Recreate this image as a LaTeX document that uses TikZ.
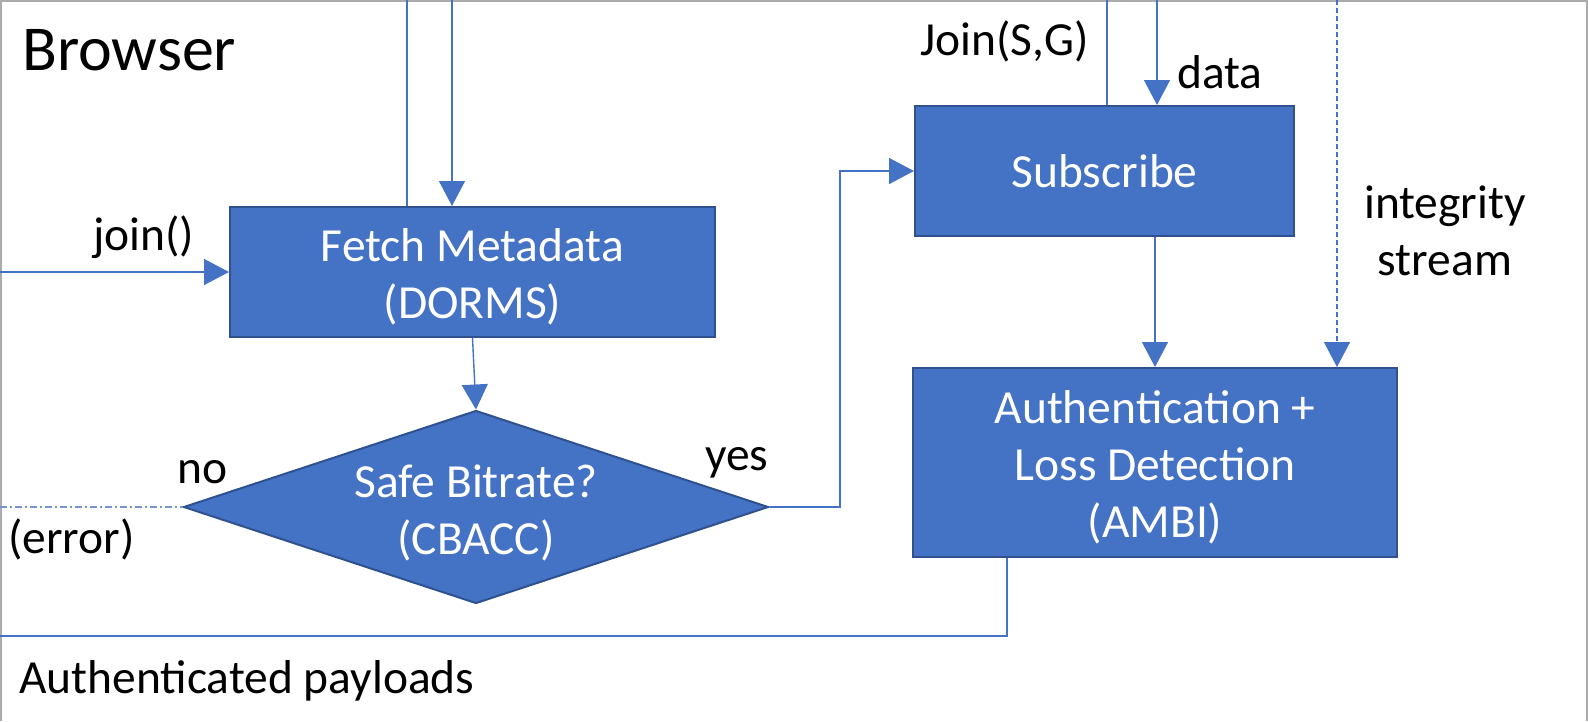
\documentclass[tikz,border=0pt]{standalone}
\usepackage{fontspec}
\setmainfont{Carlito}
\usetikzlibrary{arrows.meta,shapes.geometric}
\definecolor{obl}{HTML}{4472C4}
\definecolor{obd}{HTML}{2F528F}
\definecolor{frm}{HTML}{ABABAB}
\newcommand{\tallstrut}{\rule{0pt}{42pt}}
\tikzset{
  box/.style={rectangle, draw=obd, fill=obl, line width=2pt, text=white,
    font=\fontsize{47.5}{57}\selectfont, align=center, inner sep=0pt},
  dec/.style={diamond, draw=obd, fill=obl, line width=2pt, text=white,
    font=\fontsize{47.5}{57}\selectfont, align=center, inner sep=0pt, aspect=3.03},
  conn/.style={draw=obl, line width=1.4pt},
  arr/.style={conn, -{Triangle[length=25pt,width=26pt]}},
  lbl/.style={font=\fontsize{47.5}{57}\selectfont, text=black, inner sep=0pt},
}
\begin{document}
\begin{tikzpicture}[x=1pt,y=-1pt]
\useasboundingbox (0,0) rectangle (1588,721);
% frame
\draw[frm, line width=3pt] (0,721) -- (0,0) -- (1587.5,0) -- (1587.5,721);

% boxes
\node[box, minimum width=485pt, minimum height=130pt] (fetch) at (472.5,272) {\tallstrut Fetch Metadata\\(DORMS)};
\node[box, minimum width=379pt, minimum height=130pt] (sub) at (1104.5,171) {Subscribe};
\node[box, minimum width=484pt, minimum height=189pt] (amb) at (1155,462.5) {\tallstrut Authentication +\\Loss Detection\\(AMBI)};
\node[dec, minimum width=585pt, minimum height=193pt] (dia) at (476,507) {\rule{0pt}{44pt}Safe Bitrate?\\(CBACC)};

% labels
\node[lbl, anchor=base west, font=\fontsize{64}{70}\selectfont] (browser) at (22,70) {Browser};
\node[lbl, anchor=base west] (joinl) at (93,250) {join()};
\node[lbl, anchor=base west] (joinsg) at (920,55) {Join(S,G)};
\node[lbl, anchor=base west] (datal) at (1177,88) {data};
\node[lbl, anchor=base] (int1) at (1445,218) {integrity};
\node[lbl, anchor=base] (int2) at (1445,275) {stream};
\node[lbl, anchor=base west] (nol) at (177,483) {no};
\node[lbl, anchor=base west] (yesl) at (705,470) {yes};
\node[lbl, anchor=base west] (errl) at (8,553) {(error)};
\node[lbl, anchor=base west] (payl) at (19,693) {Authenticated payloads};

% coordinates for free ends
\coordinate (tA) at (407,0);
\coordinate (tB) at (452,0);
\coordinate (jl) at (0,272);
\coordinate (el) at (0,507);
\coordinate (yc) at (840,0);
\coordinate (tC) at (1107,0);
\coordinate (tD) at (1157,0);
\coordinate (tE) at (1337,0);
\coordinate (bx) at (1007,0);
\coordinate (bl) at (0,636);

% connectors
\draw[conn] (tA) -- (tA |- fetch.north);
\draw[arr] (tB) -- (tB |- fetch.north);
\draw[arr] (jl) -- (fetch.west);
\draw[arr] (fetch.south) -- (dia.north);
\draw[arr] (dia.east) -- (dia.east -| yc) -- (yc |- sub.west) -- (sub.west);
\draw[conn, draw=obl!75, dash pattern=on 7pt off 3pt on 2pt off 3pt] (el) -- (dia.west);
\draw[conn] (tC) -- (tC |- sub.north);
\draw[arr] (tD) -- (tD |- sub.north);
\draw[arr] (amb.north |- sub.south) -- (amb.north);
\draw[arr, dash pattern=on 5pt off 3pt] (tE) -- (tE |- amb.north);
\draw[conn] (bx |- amb.south) -- (bx |- bl) -- (bl);
\end{tikzpicture}
\end{document}
